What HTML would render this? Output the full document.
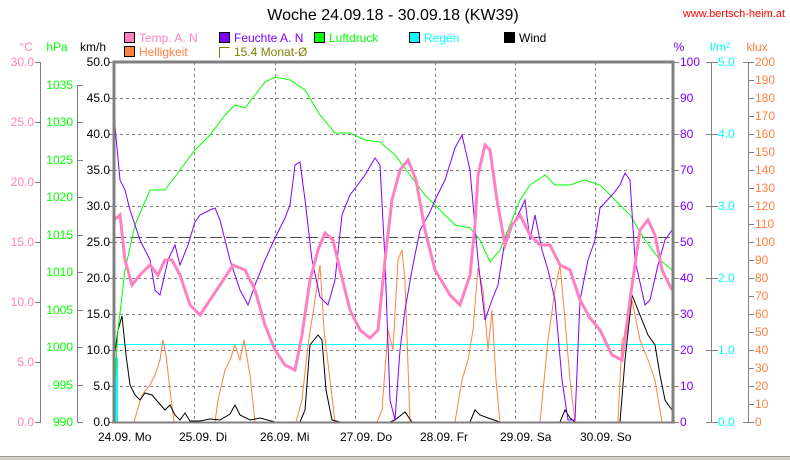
<!DOCTYPE html><html><head><meta charset="utf-8"><style>
body{margin:0;background:#fff;width:790px;height:460px;overflow:hidden;font-family:"Liberation Sans",sans-serif}
svg{display:block}
text{font-family:"Liberation Sans",sans-serif;font-size:12px}
</style></head><body>
<svg width="790" height="460" viewBox="0 0 790 460">
<text x="393" y="20" text-anchor="middle" fill="#000" style="font-size:16px">Woche 24.09.18 - 30.09.18 (KW39)</text>
<text x="785" y="17" text-anchor="end" fill="#ff0000" style="font-size:11px">www.bertsch-heim.at</text>
<rect x="124.5" y="32.5" width="10" height="10" fill="#ff80c0" stroke="#000"/><text x="139" y="42" fill="#ff80c0">Temp. A. N</text>
<rect x="219.5" y="32.5" width="10" height="10" fill="#8000ff" stroke="#000"/><text x="234" y="42" fill="#8000ff">Feuchte A. N</text>
<rect x="314.5" y="32.5" width="10" height="10" fill="#00ff00" stroke="#000"/><text x="329" y="42" fill="#00ff00">Luftdruck</text>
<rect x="409.5" y="32.5" width="10" height="10" fill="#00ffff" stroke="#000"/><text x="424" y="42" fill="#00ffff">Regen</text>
<rect x="504.5" y="32.5" width="10" height="10" fill="#000" stroke="#000"/><text x="519" y="42" fill="#000">Wind</text>
<rect x="124.5" y="46.5" width="10" height="10" fill="#ff8040" stroke="#000"/><text x="139" y="56" fill="#ff8040">Helligkeit</text>
<path d="M229.5 47.5H219.5V57.5" fill="none" stroke="#808000"/><text x="234" y="56" fill="#808000">15.4 Monat-Ø</text>
<text x="26" y="51" text-anchor="middle" fill="#ff80c0">°C</text>
<text x="57" y="51" text-anchor="middle" fill="#00ff00">hPa</text>
<text x="93" y="51" text-anchor="middle" fill="#000">km/h</text>
<text x="679" y="51" text-anchor="middle" fill="#8000ff">%</text>
<text x="720" y="51" text-anchor="middle" fill="#00ffff">l/m²</text>
<text x="757" y="51" text-anchor="middle" fill="#ff8040">klux</text>
<g stroke="#808080" fill="none">
<line x1="40.5" y1="62" x2="40.5" y2="422"/>
<line x1="77.5" y1="85" x2="77.5" y2="422"/>
<line x1="711.5" y1="62" x2="711.5" y2="422"/>
<line x1="748.5" y1="62" x2="748.5" y2="422"/>
<path d="M35 62.5h6M35 122.5h6M35 182.5h6M35 242.5h6M35 302.5h6M35 362.5h6M35 422.5h6"/>
<path d="M77 85.5h6M77 122.5h6M77 160.5h6M77 197.5h6M77 235.5h6M77 272.5h6M77 310.5h6M77 347.5h6M77 385.5h6M77 422.5h6"/>
<path d="M109 62.5h5M109 98.5h5M109 134.5h5M109 170.5h5M109 206.5h5M109 242.5h5M109 278.5h5M109 314.5h5M109 350.5h5M109 386.5h5M109 422.5h5"/>
<path d="M673 62.5h6M673 98.5h6M673 134.5h6M673 170.5h6M673 206.5h6M673 242.5h6M673 278.5h6M673 314.5h6M673 350.5h6M673 386.5h6M673 422.5h6"/>
<path d="M706 62.5h12M706 134.5h12M706 206.5h12M706 278.5h12M706 350.5h12M706 422.5h12"/>
<path d="M743 62.5h11M748 80.5h6M748 98.5h6M748 116.5h6M748 134.5h6M748 152.5h6M748 170.5h6M748 188.5h6M748 206.5h6M748 224.5h6M748 242.5h6M748 260.5h6M748 278.5h6M748 296.5h6M748 314.5h6M748 332.5h6M748 350.5h6M748 368.5h6M748 386.5h6M748 404.5h6M743 422.5h11"/>
</g>
<g fill="#ff80c0" text-anchor="end">
<text x="34" y="66">30.0</text><text x="34" y="126">25.0</text><text x="34" y="186">20.0</text><text x="34" y="246">15.0</text><text x="34" y="306">10.0</text><text x="34" y="366">5.0</text><text x="34" y="426">0.0</text>
</g>
<g fill="#00ff00" text-anchor="end">
<text x="73" y="89">1035</text><text x="73" y="126">1030</text><text x="73" y="164">1025</text><text x="73" y="201">1020</text><text x="73" y="239">1015</text><text x="73" y="276">1010</text><text x="73" y="314">1005</text><text x="73" y="351">1000</text><text x="73" y="389">995</text><text x="73" y="426">990</text>
</g>
<g fill="#000" text-anchor="end">
<text x="110" y="66">50.0</text><text x="110" y="102">45.0</text><text x="110" y="138">40.0</text><text x="110" y="174">35.0</text><text x="110" y="210">30.0</text><text x="110" y="246">25.0</text><text x="110" y="282">20.0</text><text x="110" y="318">15.0</text><text x="110" y="354">10.0</text><text x="110" y="390">5.0</text><text x="110" y="426">0.0</text>
</g>
<g fill="#8000ff">
<text x="680" y="66">100</text><text x="680" y="102">90</text><text x="680" y="138">80</text><text x="680" y="174">70</text><text x="680" y="210">60</text><text x="680" y="246">50</text><text x="680" y="282">40</text><text x="680" y="318">30</text><text x="680" y="354">20</text><text x="680" y="390">10</text><text x="680" y="426">0</text>
</g>
<g fill="#00ffff">
<text x="718" y="66">5.0</text><text x="718" y="138">4.0</text><text x="718" y="210">3.0</text><text x="718" y="282">2.0</text><text x="718" y="354">1.0</text><text x="718" y="426">0.0</text>
</g>
<g fill="#ff8040">
<text x="755" y="66">200</text><text x="755" y="84">190</text><text x="755" y="102">180</text><text x="755" y="120">170</text><text x="755" y="138">160</text><text x="755" y="156">150</text><text x="755" y="174">140</text><text x="755" y="192">130</text><text x="755" y="210">120</text><text x="755" y="228">110</text><text x="755" y="246">100</text><text x="755" y="264">90</text><text x="755" y="282">80</text><text x="755" y="300">70</text><text x="755" y="318">60</text><text x="755" y="336">50</text><text x="755" y="354">40</text><text x="755" y="372">30</text><text x="755" y="390">20</text><text x="755" y="408">10</text><text x="755" y="426">0</text>
</g>
<g stroke="#808080" stroke-dasharray="3,3">
<line x1="114" y1="98.5" x2="673" y2="98.5"/><line x1="114" y1="134.5" x2="673" y2="134.5"/><line x1="114" y1="170.5" x2="673" y2="170.5"/><line x1="114" y1="206.5" x2="673" y2="206.5"/><line x1="114" y1="242.5" x2="673" y2="242.5"/><line x1="114" y1="278.5" x2="673" y2="278.5"/><line x1="114" y1="314.5" x2="673" y2="314.5"/><line x1="114" y1="350.5" x2="673" y2="350.5"/><line x1="114" y1="386.5" x2="673" y2="386.5"/>
<line x1="194.5" y1="62" x2="194.5" y2="422"/><line x1="275.5" y1="62" x2="275.5" y2="422"/><line x1="355.5" y1="62" x2="355.5" y2="422"/><line x1="435.5" y1="62" x2="435.5" y2="422"/><line x1="515.5" y1="62" x2="515.5" y2="422"/><line x1="595.5" y1="62" x2="595.5" y2="422"/>
</g>
<line x1="114" y1="237.5" x2="673" y2="237.5" stroke="#505050" stroke-dasharray="12,4"/>
<line x1="114" y1="344.5" x2="673" y2="344.5" stroke="#00ffff"/>
<rect x="115" y="358" width="3" height="64" fill="#00ffff"/>
<polyline fill="none" stroke="#ff8040" points="134,422 138,408 142,395 150,385 155,375 160,360 163,340 166,355 170,390 174,422 215,422 218,400 225,370 230,360 235,345 240,360 244,340 250,375 255,422 296,422 302,400 308,345 315,300 320,265 324,330 330,380 335,422 377,422 382,410 388,330 393,350 398,260 402,250 405,280 410,422 455,422 462,380 468,360 473,330 478,268 483,290 488,350 492,310 496,380 500,422 540,422 548,340 555,290 560,265 565,320 570,380 575,422 618,422 622,340 628,330 632,300 640,340 648,360 655,380 662,422"/>
<polyline fill="none" stroke="#000" points="114,360 118,330 122,316 126,355 130,385 135,395 140,400 145,393 152,395 158,402 165,410 170,405 175,415 180,420 185,413 190,421 200,421 210,419 220,420 230,414 235,405 240,415 250,420 260,418 275,422 300,422 305,410 310,345 318,335 322,340 326,390 332,420 340,422 390,422 395,420 405,412 412,422 470,422 475,410 480,415 488,418 500,422 560,422 565,410 570,418 575,422 620,422 625,360 632,295 636,305 640,315 648,335 655,345 660,375 665,400 672,410"/>
<polyline fill="none" stroke="#00ff00" points="114,400 118,330 125,270 135,225 150,190 165,190 180,170 195,150 210,135 225,115 235,105 245,108 255,95 265,82 275,77 290,80 305,90 320,115 335,133 350,133 365,140 380,142 395,155 410,175 425,195 440,210 455,225 470,228 480,240 490,262 500,250 510,225 520,200 530,185 545,175 555,185 570,185 585,180 600,185 615,200 630,215 645,240 660,260 672,270"/>
<polyline fill="none" stroke="#8000ff" points="114,115 120,180 125,190 130,210 140,240 150,260 155,290 160,295 168,260 175,245 180,265 188,245 195,222 200,215 210,210 215,208 220,220 230,260 240,290 248,305 255,285 265,260 275,238 285,218 290,205 295,165 300,162 305,200 312,260 320,297 328,305 335,280 342,215 350,195 365,175 375,158 380,165 385,260 390,400 395,420 400,350 405,310 412,270 420,230 430,212 435,200 445,180 455,148 462,135 470,170 478,260 485,320 492,300 498,285 505,240 512,225 518,215 525,200 530,240 535,215 542,250 548,270 555,300 562,380 568,420 575,420 580,300 588,260 595,240 600,208 612,195 620,185 625,173 630,180 635,260 645,305 650,300 658,265 665,240 672,230"/>
<polyline fill="none" stroke="#ff80c0" stroke-width="3" points="114,220 120,215 125,260 132,285 140,275 150,265 158,275 165,260 172,260 180,275 190,305 200,315 210,300 220,285 233,265 245,270 255,290 265,325 275,350 285,365 295,370 302,335 310,280 318,250 325,233 333,240 340,270 350,310 360,330 370,338 378,330 385,260 392,200 400,170 408,160 416,180 425,230 435,270 450,295 460,305 470,275 475,225 478,175 485,145 490,150 497,200 505,245 512,225 520,215 530,235 540,245 550,245 560,265 570,270 580,300 590,318 600,330 612,355 622,360 630,300 640,230 648,220 655,235 662,270 672,290"/>
<path d="M114 422V62H673V422" fill="none" stroke="#808080" stroke-width="3"/>
<line x1="112" y1="422.5" x2="675" y2="422.5" stroke="#808080" stroke-width="2"/>
<g fill="#000">
<text x="98" y="441">24.09.  Mo</text>
<text x="179" y="441">25.09.  Di</text>
<text x="260" y="441">26.09.  Mi</text>
<text x="340" y="441">27.09.  Do</text>
<text x="420" y="441">28.09.  Fr</text>
<text x="500" y="441">29.09.  Sa</text>
<text x="580" y="441">30.09.  So</text>
</g>
<rect x="0" y="456" width="790" height="4" fill="#d4d0c8"/>
<line x1="0" y1="456.5" x2="790" y2="456.5" stroke="#a0a0a0"/>
</svg>
</body></html>
